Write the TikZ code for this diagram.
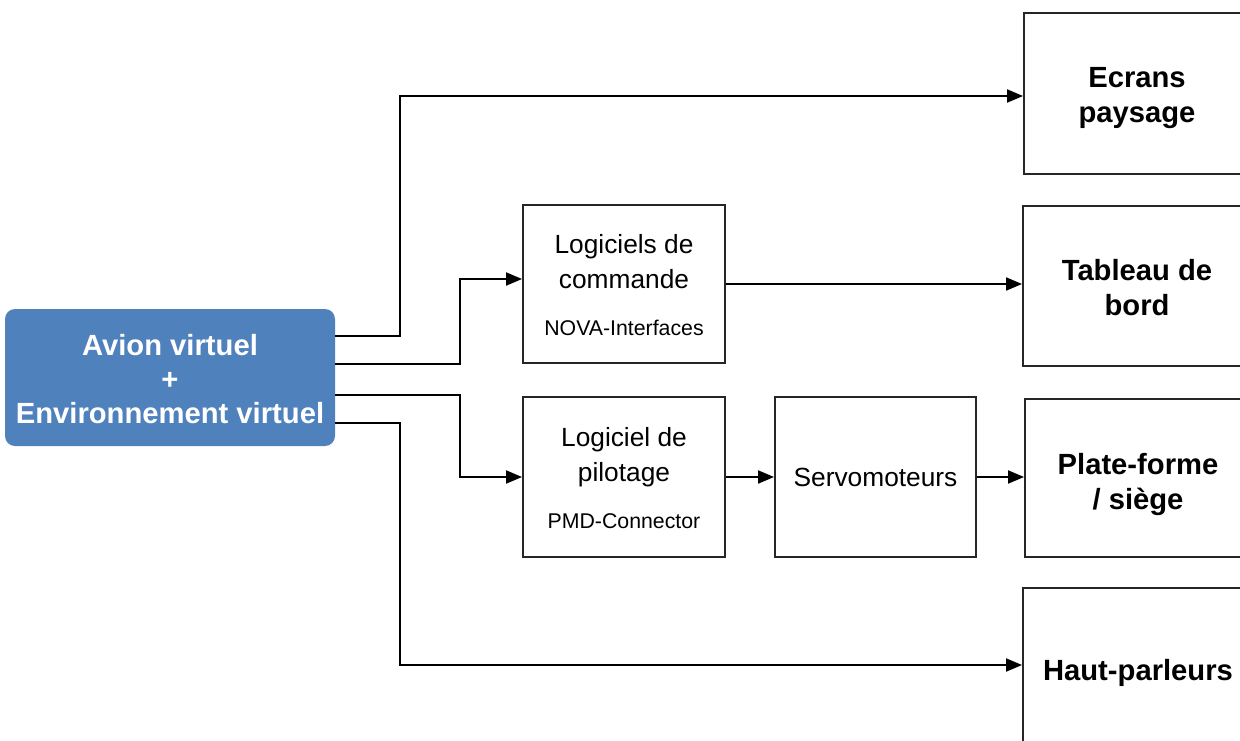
\documentclass[tikz,border=0pt]{standalone}
\usepackage{fontspec}
\setmainfont{Liberation Sans}
\usetikzlibrary{arrows.meta}
\definecolor{avblue}{HTML}{4F81BD}
\begin{document}
\begin{tikzpicture}[x=1pt,y=-1pt,
  blk/.style={draw=black!85, line width=1.9pt, inner sep=0pt},
  bigtxt/.style={align=center, font=\fontsize{29.2}{35}\selectfont\bfseries},
  midtxt/.style={align=center, font=\fontsize{26.3}{35}\selectfont},
  subtxt/.style={align=center, font=\fontsize{21.3}{25}\selectfont},
  arr/.style={line width=1.9pt, -{Triangle[length=16pt,width=13pt]}}]
\useasboundingbox (0,0) rectangle (1240,740);
\clip (0,0) rectangle (1240,740);

% source
\node[fill=avblue, rounded corners=10pt, minimum width=330pt, minimum height=137pt,
      inner sep=0pt] (src) at (170,377.5) {};
\node[text=white, align=center, font=\fontsize{29.2}{34}\selectfont\bfseries] (srct) at (170,379)
      {Avion virtuel\\+\\Environnement virtuel};

% right boxes
\node[blk, minimum width=226pt, minimum height=161pt] (ecr) at (1137,93.5) {};
\node[bigtxt] (ecrt) at (1137,98.5) {Ecrans\\paysage};
\node[blk, minimum width=227pt, minimum height=160pt] (tab) at (1136.5,286) {};
\node[bigtxt] (tabt) at (1137,287.5) {Tableau de\\bord};
\node[blk, minimum width=225pt, minimum height=158pt] (pla) at (1137.5,478) {};
\node[bigtxt] (plat) at (1138,484.5) {Plate-forme\\/ siège};
\node[blk, minimum width=227pt, minimum height=164pt] (hau) at (1136.5,670) {};
\node[bigtxt] (haut) at (1138,673) {Haut-parleurs};

% middle boxes
\node[blk, minimum width=202pt, minimum height=158pt] (cmd) at (624,284) {};
\node[midtxt] (cmdt) at (624,261.5) {Logiciels de\\commande};
\node[subtxt] (cmds) at (624,328) {NOVA-Interfaces};

\node[blk, minimum width=202pt, minimum height=160pt] (pil) at (624,477) {};
\node[midtxt] (pilt) at (624,457.5) {Logiciel de\\pilotage};
\node[subtxt] (pils) at (624,521) {PMD-Connector};

\node[blk, midtxt, minimum width=201pt, minimum height=160pt] (srv) at (875.5,477) {Servomoteurs};

% connectors
\draw[arr] ([yshift=41.5pt]src.east) -- (400,336) |- ([yshift=-2.5pt]ecr.west);
\draw[arr] ([yshift=13.5pt]src.east) -- (460,364) |- ([yshift=5pt]cmd.west);
\draw[arr] ([yshift=-17.5pt]src.east) -- (460,395) |- (pil.west);
\draw[arr] ([yshift=-45.5pt]src.east) -- (400,423) |- ([yshift=5pt]hau.west);

\draw[arr] (cmd.east) -- (cmd.east -| tab.west);
\draw[arr] (pil.east) -- (srv.west);
\draw[arr] (srv.east) -- (srv.east -| pla.west);
\end{tikzpicture}
\end{document}
